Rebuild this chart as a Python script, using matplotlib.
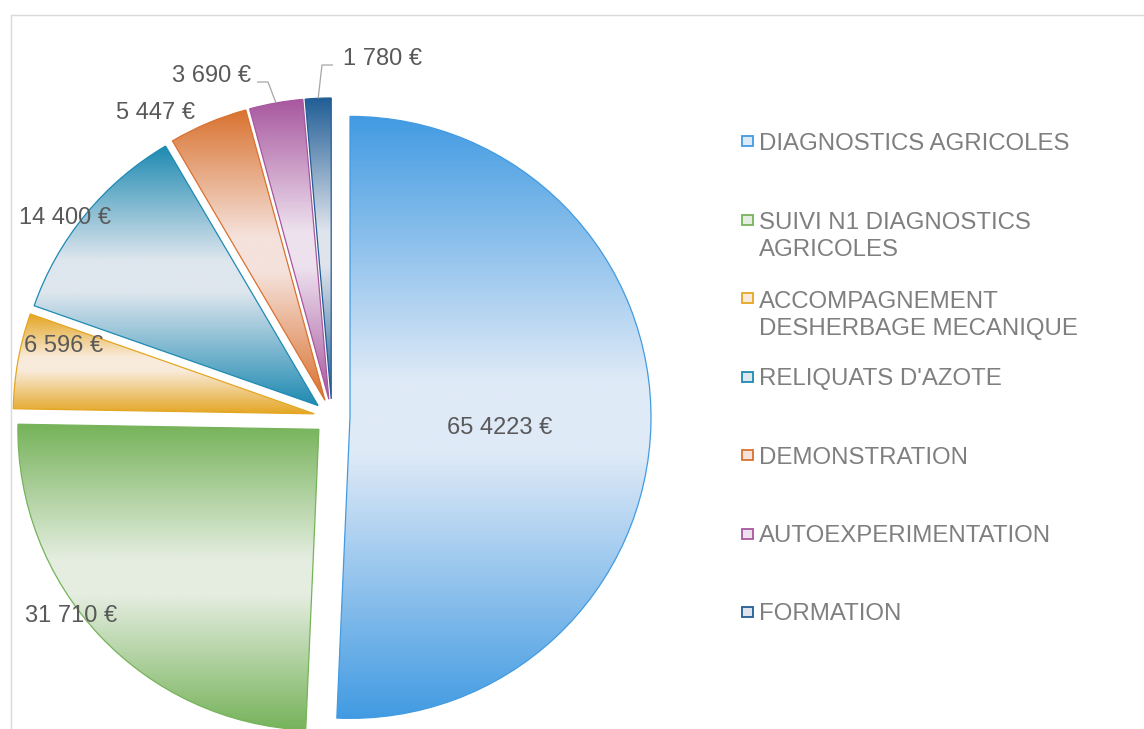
import numpy as np
import matplotlib.pyplot as plt
from matplotlib.patches import Rectangle
from matplotlib.colors import to_rgb

plt.rcParams['font.family'] = ['Liberation Sans', 'DejaVu Sans']

categories = ["DIAGNOSTICS AGRICOLES",
              "SUIVI N1 DIAGNOSTICS\nAGRICOLES",
              "ACCOMPAGNEMENT\nDESHERBAGE MECANIQUE",
              "RELIQUATS D'AZOTE",
              "DEMONSTRATION",
              "AUTOEXPERIMENTATION",
              "FORMATION"]
values = [65423, 31710, 6596, 14400, 5447, 3690, 1780]
value_labels = ["65 4223 €", "31 710 €", "6 596 €", "14 400 €",
                "5 447 €", "3 690 €", "1 780 €"]

dark = ["#429be2", "#76b35a", "#e4a622", "#1e8ab2", "#d9722f", "#a8579f", "#215e96"]
light = ["#dfeaf7", "#e4ede0", "#f9ebdc", "#dee6ee", "#f5e2dc", "#ede1ee", "#dfe4ec"]

W, H = 1144, 729
RADIUS = 301
GAP = 18  # explode offset, pixels
# label centres in picture pixels (x, y from top)
label_pos = [(500, 425), (71, 613), (64, 343), (65, 215), (156, 110), (212, 73), (383, 56)]
# leader lines: (start, elbow) in picture pixels
leaders = {5: ((257, 82), (268, 82)), 6: ((333, 65), (322, 65))}
LINE_H = 28


def py(y):
    return H - y


def fill_gradient(ax, w, c_dark, c_light):
    th = np.radians(np.linspace(w.theta1, w.theta2, 300))
    cx, cy = w.center
    xs = np.r_[cx, cx + w.r * np.cos(th)]
    ys = np.r_[cy, cy + w.r * np.sin(th)]
    t = np.abs(np.linspace(-1, 1, 300))
    f = np.clip((t - 0.12) / 0.88, 0, 1)
    d = np.array(to_rgb(c_dark))
    l = np.array(to_rgb(c_light))
    rows = l + (d - l) * f[:, None]
    img = np.repeat(rows[:, None, :], 2, axis=1)
    im = ax.imshow(img, extent=(xs.min(), xs.max(), ys.min(), ys.max()),
                   origin='lower', aspect='auto', interpolation='bilinear', zorder=1)
    im.set_clip_path(w)


fig = plt.figure(figsize=(W / 100, H / 100), dpi=100)
ax = fig.add_axes([0, 0, 1, 1])

wedges, _ = ax.pie(values, explode=[GAP] * len(values), startangle=90,
                   counterclock=False, center=(332, py(417)), radius=RADIUS,
                   colors=dark, wedgeprops=dict(linewidth=0.9))

for w, cd, cl in zip(wedges, dark, light):
    fill_gradient(ax, w, cd, cl)
    w.set_facecolor('none')
    w.set_edgecolor(cd)
    w.set_zorder(2)

# value labels
for i, (txt, (x, y)) in enumerate(zip(value_labels, label_pos)):
    ax.text(x, py(y) - 8.5, txt, ha='center', va='baseline',
            fontsize=17, color='#595959', zorder=4)

# leader lines for the small slices
for i, (start, elbow) in leaders.items():
    w = wedges[i]
    mid = np.radians((w.theta1 + w.theta2) / 2)
    ex = w.center[0] + w.r * np.cos(mid)
    ey = w.center[1] + w.r * np.sin(mid)
    ax.plot([start[0], elbow[0], ex], [py(start[1]), py(elbow[1]), ey],
            color='#a6a6a6', lw=0.9, zorder=3, solid_capstyle='butt')

# legend
for i, (name, cd, cl) in enumerate(zip(categories, dark, light)):
    yc = 141 + 78.5 * i
    ax.add_patch(Rectangle((741.5, py(yc) - 5), 11, 10, facecolor=cl,
                           edgecolor=cd, lw=1.3, zorder=3))
    n_lines = name.count("\n")
    ax.text(759, py(yc) - 8.5 - n_lines * LINE_H, name, ha='left', va='baseline',
            fontsize=17.3, color='#7f7f7f', linespacing=1.28, zorder=3)

# chart frame
ax.add_patch(Rectangle((10.5, -10), 1300, py(14.5) + 10, facecolor='none',
                       edgecolor='#d9d9d9', lw=1, zorder=0))

ax.set_xlim(0, W)
ax.set_ylim(0, H)
ax.set_aspect('auto')
ax.axis('off')

fig.savefig('out.png', dpi=100)
